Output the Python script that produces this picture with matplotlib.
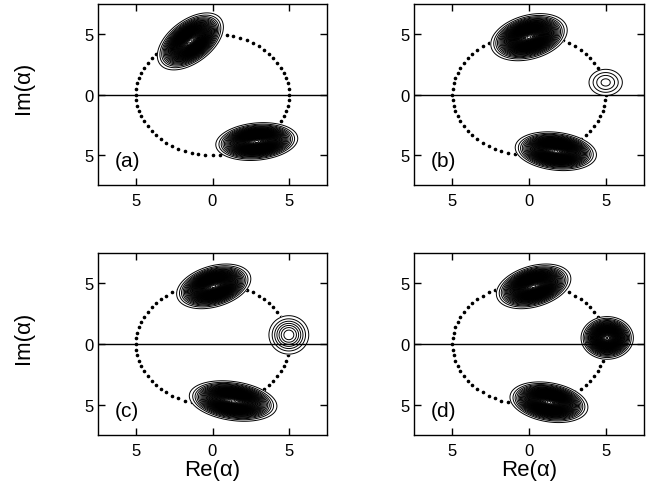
import numpy as np
import matplotlib
matplotlib.use("Agg")
import matplotlib.pyplot as plt

plt.rcParams['font.family'] = ['Liberation Sans', 'DejaVu Sans']

# blob parameters per panel: centre x, centre y, width along axis, width across, angle (deg), amplitude
panel_tags = ['(a)', '(b)', '(c)', '(d)']
blob_x = [[-1.45, 2.9], [0.0, 1.75, 5.0], [0.08, 1.35, 5.0], [0.3, 1.3, 5.1]]
blob_y = [[4.4, -3.9], [4.75, -4.7, 1.0], [4.75, -4.7, 0.75], [4.75, -4.8, 0.5]]
blob_major = [[1.05, 1.02], [0.99, 1.01, 0.7], [0.97, 1.1, 0.7], [0.97, 0.98, 0.66]]
blob_minor = [[0.6, 0.58], [0.67, 0.59, 0.7], [0.62, 0.6, 0.85], [0.62, 0.6, 0.68]]
blob_angle = [[50, 8], [25, -10, 0], [25, -12, 0], [25, -15, 0]]
blob_amp = [[1.0, 1.0], [1.0, 1.0, 0.1], [1.0, 1.0, 0.17], [1.0, 1.0, 0.85]]

radius = 5.0
n_dots = 68

x = np.linspace(-7.5, 7.5, 400)
y = np.linspace(-7.5, 7.5, 400)
X, Y = np.meshgrid(x, y)

fig = plt.figure(figsize=(6.55, 4.89), dpi=100)
W, H = 655.0, 489.0
boxes = [(98, 5, 327, 186), (414, 5, 644, 186), (98, 254, 327, 436), (414, 254, 644, 436)]

phi = np.linspace(0, 2 * np.pi, n_dots, endpoint=False)

for k, (l, t, r, b) in enumerate(boxes):
    ax = fig.add_axes([l / W, 1 - b / H, (r - l) / W, (b - t) / H])
    Z = np.zeros_like(X)
    for cx, cy, sa, sb, ang, amp in zip(blob_x[k], blob_y[k], blob_major[k],
                                        blob_minor[k], blob_angle[k], blob_amp[k]):
        th = np.deg2rad(ang)
        u = (X - cx) * np.cos(th) + (Y - cy) * np.sin(th)
        v = -(X - cx) * np.sin(th) + (Y - cy) * np.cos(th)
        Z += amp * np.exp(-0.5 * ((u / sa) ** 2 + (v / sb) ** 2))
    levels = np.linspace(0.03, 0.99, 48)
    ax.plot(radius * np.cos(phi), radius * np.sin(phi), linestyle='none',
            marker='o', markersize=1.6, color='black', zorder=1)
    ax.contourf(X, Y, Z, levels=[levels[0], Z.max() + 1], colors='white', zorder=2)
    ax.axhline(0, color='black', lw=1.0, zorder=2.5)
    ax.contour(X, Y, Z, levels=levels, colors='black', linewidths=0.7, zorder=3)
    ax.text(-5.6, -5.5, panel_tags[k], fontsize=15, ha='center', va='center')
    ax.set_xlim(-7.5, 7.5)
    ax.set_ylim(-7.5, 7.5)
    ax.set_xticks([-5, 0, 5])
    ax.set_yticks([-5, 0, 5])
    ax.set_xticklabels(['5', '0', '5'])
    ax.set_yticklabels(['5', '0', '5'])
    ax.tick_params(direction='in', top=True, right=True, length=5, width=1,
                   labelsize=12)
    ax.tick_params(axis='x', pad=6)
    ax.tick_params(axis='y', pad=3)
    for s in ax.spines.values():
        s.set_linewidth(1.0)
    if k >= 2:
        ax.set_xlabel('Re(α)', fontsize=16)
        ax.xaxis.set_label_coords(0.5, -0.13)
    if k % 2 == 0:
        ax.set_ylabel('Im(α)', fontsize=16)
        ax.yaxis.set_label_coords(-0.28, 0.54)

fig.savefig('out.png', dpi=100)
